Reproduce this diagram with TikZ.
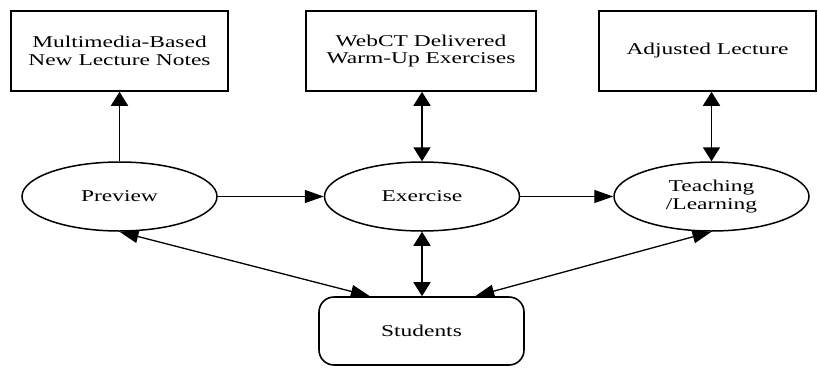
\documentclass[tikz,border=0pt]{standalone}
\usepackage{fontspec}
\setmainfont{Liberation Serif}[FakeStretch=1.42]
\usetikzlibrary{positioning,calc,shapes.geometric,arrows.meta}

\begin{document}
\begin{tikzpicture}[x=1pt, y=-1pt,
                font=\fontsize{16.5}{17.5}\selectfont,
                boxnode/.style={rectangle, draw, line width=1.6pt, minimum height=80pt, inner sep=0pt, align=center},
                stepnode/.style={ellipse, draw, line width=1.5pt, minimum width=195pt, minimum height=69pt, inner sep=0pt, align=center},
                studnode/.style={rectangle, draw, line width=1.6pt, rounded corners=15pt, minimum width=205pt, minimum height=68pt, inner sep=0pt},
                vlink/.style={line width=1.8pt, -{Triangle[length=14pt, width=17pt]}},
                vboth/.style={line width=1.8pt, {Triangle[length=14pt, width=17pt]}-{Triangle[length=14pt, width=17pt]}},
                hlink/.style={line width=1.3pt, -{Triangle[length=19pt, width=13pt]}},
                hboth/.style={line width=1.3pt, {Triangle[length=19pt, width=13pt]}-{Triangle[length=19pt, width=13pt]}},
            ]

            \useasboundingbox (0, 0) rectangle (818, 367);

            % resources
            \node[boxnode, minimum width=217pt] (notes) at (119.5, 51) {Multimedia-Based\\New Lecture Notes};
            \node[boxnode, minimum width=230pt] (warmup) at (421, 51) {WebCT Delivered\\Warm-Up Exercises};
            \node[boxnode, minimum width=217pt] (adjust) at (707.5, 51) {Adjusted Lecture};

            % steps
            \node[stepnode] (preview) at (119.5, 196.5) {Preview};
            \node[stepnode] (exercise) at (422, 196.5) {Exercise};
            \node[stepnode] (teach) at (711.5, 196.5) {Teaching\\/Learning};

            % students
            \node[studnode] (students) at (421.5, 331) {Students};

            \draw[vlink] (preview) -- (notes);
            \draw[vboth] (exercise.north) -- (exercise.north |- warmup.south);
            \draw[vboth] (teach.north) -- (teach.north |- adjust.south);

            \draw[hlink] (preview) -- (exercise);
            \draw[hlink] (exercise) -- (teach);

            \draw[vboth] (exercise.south) -- (exercise.south |- students.north);
            \draw[hboth] (preview.south) -- ($ (students.north west)!0.25!(students.north east) $);
            \draw[hboth] (teach.south) -- ($ (students.north west)!0.76!(students.north east) $);
        \end{tikzpicture}
\end{document}
